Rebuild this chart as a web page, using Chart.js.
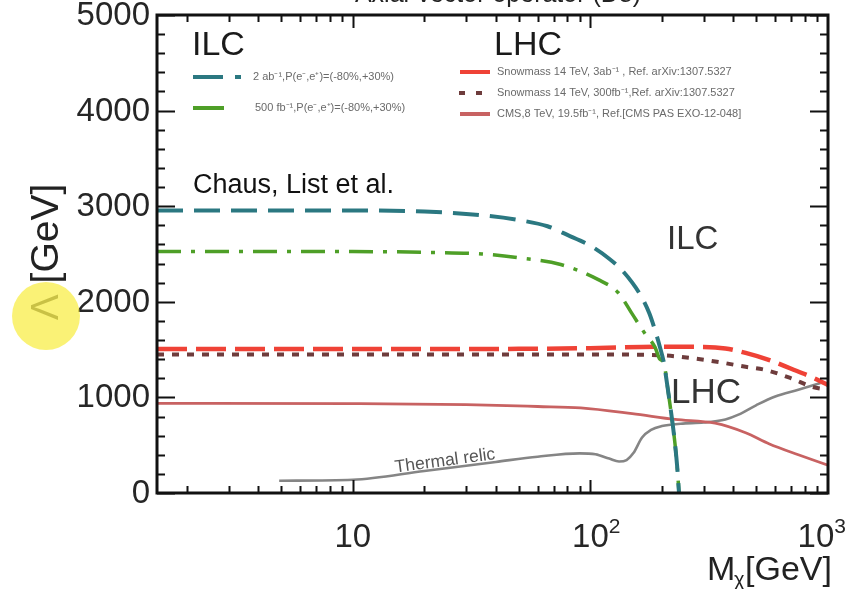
<!DOCTYPE html>
<html>
<head>
<meta charset="utf-8">
<script src="https://cdn.jsdelivr.net/npm/chart.js@4.4.1/dist/chart.umd.min.js"></script>
<style>
  html, body { margin: 0; padding: 0; background: #ffffff; }
  #wrap { width: 852px; height: 589px; position: relative; }
</style>
</head>
<body>
<div id="wrap"><canvas id="c" width="852" height="589"></canvas></div>
<script>
const FONT = '"Liberation Sans", Arial, Helvetica, sans-serif';

// ILC, 2 ab^-1, P(e-,e+) = (-80%, +30%)
const ilc2abMass   = [1.5, 5, 10, 20, 35, 50, 66, 80, 101, 120, 135, 150, 164, 177, 187, 196, 204, 210, 216, 222, 227, 232, 236];
const ilc2abLambda = [2955, 2955, 2955, 2945, 2905, 2855, 2790, 2700, 2580, 2450, 2337, 2200, 2053, 1880, 1705, 1530, 1358, 1150, 937, 720, 516, 270, 0];

// ILC, 500 fb^-1, P(e-,e+) = (-80%, +30%)
const ilc500Mass   = [1.5, 10, 20, 35, 50, 75, 108, 131, 149, 169, 187, 196, 204, 210, 216, 222, 227, 232, 236];
const ilc500Lambda = [2525, 2525, 2518, 2500, 2460, 2390, 2232, 2095, 1884, 1674, 1526, 1400, 1358, 1150, 937, 720, 516, 270, 0];

// Snowmass 14 TeV, 3 ab^-1
const lhc3abMass   = [1.5, 10, 50, 100, 200, 300, 370, 450, 567, 700, 850, 1000];
const lhc3abLambda = [1505, 1505, 1508, 1515, 1530, 1528, 1512, 1465, 1390, 1300, 1215, 1130];

// Snowmass 14 TeV, 300 fb^-1
const lhc300Mass   = [1.5, 10, 100, 200, 268, 350, 450, 546, 700, 863, 1000];
const lhc300Lambda = [1450, 1450, 1450, 1440, 1410, 1368, 1320, 1287, 1200, 1109, 1080];

// CMS, 8 TeV, 19.5 fb^-1
const cmsMass   = [1.5, 10, 30, 60, 91, 150, 227, 335, 450, 567, 750, 1000];
const cmsLambda = [938, 935, 925, 905, 890, 830, 770, 730, 630, 513, 400, 290];

// Thermal relic line
const relicMass   = [4.9, 10, 20, 40, 60, 90, 105, 120, 132, 142, 152, 165, 180, 200, 240, 300, 370, 420, 500, 600, 750, 930];
const relicLambda = [128, 138, 230, 325, 380, 415, 405, 360, 330, 345, 420, 580, 660, 700, 725, 737, 770, 820, 920, 1010, 1080, 1150];

// Axis ranges and labelled ticks
const xMin = 1.5, xMax = 1000;
const yMin = 0, yMax = 5000;
const xTickValues = [10, 100, 1000];
const xTickExponents = ['', '2', '3'];
const yTickValues = [0, 1000, 2000, 3000, 4000, 5000];

const pts = (m, l) => m.map((v, i) => ({ x: v, y: l[i] }));

const lineBase = {
  pointRadius: 0,
  fill: false,
  tension: 0,
  cubicInterpolationMode: 'monotone',
  borderCapStyle: 'butt',
  borderJoinStyle: 'round'
};

const datasets = [
  Object.assign({}, lineBase, { label: '2 ab-1', data: pts(ilc2abMass, ilc2abLambda), borderColor: '#2b7881', borderWidth: 4, borderDash: [26, 11] }),
  Object.assign({}, lineBase, { label: '500 fb-1', data: pts(ilc500Mass, ilc500Lambda), borderColor: '#4e9f27', borderWidth: 3.5, borderDash: [24, 10, 4, 10] }),
  Object.assign({}, lineBase, { label: 'Snowmass 3 ab-1', data: pts(lhc3abMass, lhc3abLambda), borderColor: '#ef4236', borderWidth: 4.5, borderDash: [30, 9] }),
  Object.assign({}, lineBase, { label: 'Snowmass 300 fb-1', data: pts(lhc300Mass, lhc300Lambda), borderColor: '#6e3c3c', borderWidth: 4, borderDash: [7, 8] }),
  Object.assign({}, lineBase, { label: 'CMS 8 TeV', data: pts(cmsMass, cmsLambda), borderColor: '#c86262', borderWidth: 2.8 }),
  Object.assign({}, lineBase, { label: 'Thermal relic', data: pts(relicMass, relicLambda), borderColor: '#858585', borderWidth: 2.6 })
];

// Frame with inward ticks on all four sides, tick labels, text annotations and highlight
const decorPlugin = {
  id: 'decor',
  afterDraw(chart) {
    const ctx = chart.ctx;
    const a = chart.chartArea;
    const xs = chart.scales.x, ys = chart.scales.y;
    ctx.save();

    // inward ticks
    ctx.strokeStyle = '#111';
    ctx.lineWidth = 2;
    ctx.beginPath();
    for (const d of [1, 10, 100]) {
      for (let k = 1; k <= 9; k++) {
        const v = k * d;
        if (v < xMin || v > xMax) continue;
        const major = (k === 1);
        const len = major ? 13 : 7;
        const px = Math.round(xs.getPixelForValue(v)) + 0.5;
        ctx.moveTo(px, a.bottom); ctx.lineTo(px, a.bottom - len);
        ctx.moveTo(px, a.top); ctx.lineTo(px, a.top + len);
      }
    }
    for (let v = yMin; v <= yMax; v += 200) {
      const major = (v % 1000 === 0);
      const len = major ? 18 : 8;
      const py = Math.round(ys.getPixelForValue(v)) + 0.5;
      ctx.moveTo(a.left, py); ctx.lineTo(a.left + len, py);
      ctx.moveTo(a.right, py); ctx.lineTo(a.right - len, py);
    }
    ctx.stroke();

    // frame
    ctx.lineWidth = 3;
    ctx.strokeStyle = '#111';
    ctx.strokeRect(a.left, a.top, a.right - a.left, a.bottom - a.top);

    // tick labels
    ctx.fillStyle = '#262626';
    ctx.font = '33px ' + FONT;
    ctx.textAlign = 'right';
    ctx.textBaseline = 'middle';
    for (const v of yTickValues) {
      ctx.fillText(String(v), a.left - 7, ys.getPixelForValue(v) + 1);
    }
    ctx.textAlign = 'left';
    ctx.textBaseline = 'alphabetic';
    xTickValues.forEach((v, i) => {
      const px = xs.getPixelForValue(v);
      ctx.font = '33px ' + FONT;
      const base = '10';
      const wb = ctx.measureText(base).width;
      ctx.font = '21px ' + FONT;
      const we = xTickExponents[i] ? ctx.measureText(xTickExponents[i]).width : 0;
      let x0 = px - wb / 2;
      if (x0 + wb + we > 846) x0 = 846 - wb - we;
      ctx.font = '33px ' + FONT;
      ctx.fillText(base, x0, 547);
      if (xTickExponents[i]) {
        ctx.font = '21px ' + FONT;
        ctx.fillText(xTickExponents[i], x0 + wb, 533);
      }
    });

    // title, mostly above the canvas
    ctx.fillStyle = '#222';
    ctx.textAlign = 'center';
    ctx.textBaseline = 'alphabetic';
    ctx.font = '25px ' + FONT;
    ctx.fillText('Axial-vector operator (D8)', 498, 2);

    // group headings
    ctx.textAlign = 'left';
    ctx.textBaseline = 'middle';
    ctx.fillStyle = '#1a1a1a';
    ctx.font = '34px ' + FONT;
    ctx.fillText('ILC', 192, 46);
    ctx.fillText('LHC', 494, 46);

    // legend samples
    ctx.lineCap = 'butt';
    const seg = (color, w, dash, x0, x1, y) => {
      ctx.save();
      ctx.strokeStyle = color; ctx.lineWidth = w; ctx.setLineDash(dash);
      ctx.beginPath(); ctx.moveTo(x0, y); ctx.lineTo(x1, y); ctx.stroke();
      ctx.restore();
    };
    seg('#2b7881', 4, [30, 12], 193, 241, 77);
    seg('#4e9f27', 4, [], 193, 224, 108);
    seg('#ef4236', 4, [], 460, 490, 72);
    seg('#6e3c3c', 4, [6, 11], 459, 484, 93);
    seg('#c86262', 4, [], 460, 490, 114);

    ctx.fillStyle = '#6a6a6a';
    ctx.font = '11px ' + FONT;
    ctx.fillText('2 ab\u207B\u00B9,P(e\u207B,e\u207A)=(-80%,+30%)', 253, 77);
    ctx.fillText('500 fb\u207B\u00B9,P(e\u207B,e\u207A)=(-80%,+30%)', 255, 108);
    ctx.fillText('Snowmass 14 TeV, 3ab\u207B\u00B9 , Ref. arXiv:1307.5327', 497, 72);
    ctx.fillText('Snowmass 14 TeV, 300fb\u207B\u00B9,Ref. arXiv:1307.5327', 497, 93);
    ctx.fillText('CMS,8 TeV, 19.5fb\u207B\u00B9, Ref.[CMS PAS EXO-12-048]', 497, 114);

    // annotations inside the plot
    ctx.fillStyle = '#111';
    ctx.font = '27px ' + FONT;
    ctx.fillText('Chaus, List et al.', 193, 186);
    ctx.fillStyle = '#333';
    ctx.font = '33px ' + FONT;
    ctx.fillText('ILC', 667, 240);
    ctx.font = '35px ' + FONT;
    ctx.fillText('LHC', 671, 393);

    ctx.save();
    ctx.translate(445, 461);
    ctx.rotate(-7.5 * Math.PI / 180);
    ctx.textAlign = 'center';
    ctx.fillStyle = '#555';
    ctx.font = '17.5px ' + FONT;
    ctx.fillText('Thermal relic', 0, 0);
    ctx.restore();

    // x axis title: M_chi [GeV]
    ctx.fillStyle = '#222';
    ctx.textBaseline = 'alphabetic';
    ctx.textAlign = 'left';
    ctx.font = '34px ' + FONT;
    ctx.fillText('M', 707, 580);
    ctx.font = '20px ' + FONT;
    ctx.fillText('\u03C7', 734, 586);
    ctx.font = '34px ' + FONT;
    ctx.fillText('[GeV]', 745, 580);

    // y axis title: Lambda [GeV]
    ctx.save();
    ctx.translate(58, 252);
    ctx.rotate(-Math.PI / 2);
    ctx.textAlign = 'center';
    ctx.font = '39px ' + FONT;
    ctx.fillText('\u039B [GeV]', 0, 0);
    ctx.restore();

    // yellow highlight
    ctx.fillStyle = 'rgba(248, 238, 80, 0.78)';
    ctx.beginPath();
    ctx.arc(46, 316, 34, 0, Math.PI * 2);
    ctx.fill();

    ctx.restore();
  }
};

new Chart(document.getElementById('c'), {
  type: 'line',
  data: { datasets },
  options: {
    responsive: false,
    animation: false,
    devicePixelRatio: 1,
    layout: { autoPadding: false, padding: { left: 0, top: 15, right: 24, bottom: 0 } },
    plugins: { legend: { display: false }, tooltip: { enabled: false }, title: { display: false } },
    scales: {
      x: {
        type: 'logarithmic',
        min: xMin, max: xMax,
        grid: { display: false, drawTicks: false },
        border: { display: false },
        afterFit: s => { s.height = 96; },
        ticks: { display: false }
      },
      y: {
        type: 'linear',
        min: yMin, max: yMax,
        grid: { display: false, drawTicks: false },
        border: { display: false },
        afterFit: s => { s.width = 157; },
        ticks: { display: false }
      }
    }
  },
  plugins: [decorPlugin]
});
</script>
</body>
</html>
